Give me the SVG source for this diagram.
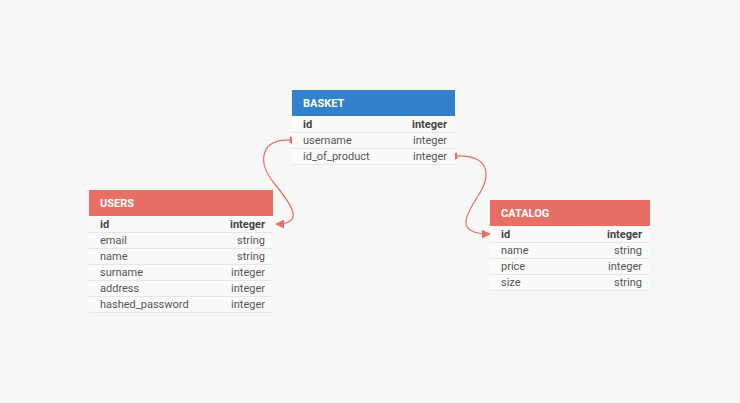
<svg xmlns="http://www.w3.org/2000/svg" width="740" height="403" viewBox="0 0 740 403">
<style>
.hdr-blue{fill:#3181cb}
.hdr-red{fill:#e86f65}
.hdr-text{font-family:Roboto,"Liberation Sans",sans-serif;font-size:11px;font-weight:bold;fill:#ffffff}
.row{fill:#fafafa;stroke:none}
.sep{stroke:#e6e6e6;stroke-width:1}
.f{font-family:Roboto,"Liberation Sans",sans-serif;font-size:11px;fill:#555555}
.pk{font-weight:bold;fill:#444444}
.t{text-anchor:end}
.conn{fill:none;stroke:#e86f65;stroke-width:1.2}
</style>
<defs>
<marker id="arrow" viewBox="0 0 10 10" refX="9" refY="5" markerWidth="9" markerHeight="9" markerUnits="userSpaceOnUse" orient="auto">
<path d="M0,0 L10,5 L0,10 z" fill="#e86f65"/>
</marker>
<marker id="tick" viewBox="0 0 4 10" refX="2" refY="5" markerWidth="3" markerHeight="7" markerUnits="userSpaceOnUse" orient="auto">
<rect x="0" y="0" width="4" height="10" fill="#e86f65"/>
</marker>
</defs>
<rect width="740" height="403" fill="#f7f7f7"/>

<g id="connectors">
<path class="conn" d="M291,140 C260,139 257,162 274,183 C291,204 306,224 276,224" marker-start="url(#tick)" marker-end="url(#arrow)"/>
<path class="conn" d="M456,156 C491,155 491,176 478,196 C465,216 455,234 490,234" marker-start="url(#tick)" marker-end="url(#arrow)"/>
</g>

<g id="basket">
<rect class="hdr-blue" x="292" y="90" width="163" height="26"/>
<text class="hdr-text" x="303" y="107">BASKET</text>
<rect class="row" x="292" y="116" width="163" height="48"/>
<line class="sep" x1="292" y1="132.5" x2="455" y2="132.5"/>
<line class="sep" x1="292" y1="148.5" x2="455" y2="148.5"/>
<line class="sep" x1="292" y1="164.5" x2="455" y2="164.5"/>
<text class="f pk" x="303" y="128">id</text><text class="f pk t" x="447" y="128">integer</text>
<text class="f" x="303" y="144">username</text><text class="f t" x="447" y="144">integer</text>
<text class="f" x="303" y="160">id_of_product</text><text class="f t" x="447" y="160">integer</text>
</g>

<g id="users">
<rect class="hdr-red" x="89" y="190" width="184" height="26"/>
<text class="hdr-text" x="100" y="207">USERS</text>
<rect class="row" x="89" y="216" width="184" height="96"/>
<line class="sep" x1="89" y1="232.5" x2="273" y2="232.5"/>
<line class="sep" x1="89" y1="248.5" x2="273" y2="248.5"/>
<line class="sep" x1="89" y1="264.5" x2="273" y2="264.5"/>
<line class="sep" x1="89" y1="280.5" x2="273" y2="280.5"/>
<line class="sep" x1="89" y1="296.5" x2="273" y2="296.5"/>
<line class="sep" x1="89" y1="312.5" x2="273" y2="312.5"/>
<text class="f pk" x="100" y="228">id</text><text class="f pk t" x="265" y="228">integer</text>
<text class="f" x="100" y="244">email</text><text class="f t" x="265" y="244">string</text>
<text class="f" x="100" y="260">name</text><text class="f t" x="265" y="260">string</text>
<text class="f" x="100" y="276">surname</text><text class="f t" x="265" y="276">integer</text>
<text class="f" x="100" y="292">address</text><text class="f t" x="265" y="292">integer</text>
<text class="f" x="100" y="308">hashed_password</text><text class="f t" x="265" y="308">integer</text>
</g>

<g id="catalog">
<rect class="hdr-red" x="490" y="200" width="160" height="26"/>
<text class="hdr-text" x="501" y="217">CATALOG</text>
<rect class="row" x="490" y="226" width="160" height="64"/>
<line class="sep" x1="490" y1="242.5" x2="650" y2="242.5"/>
<line class="sep" x1="490" y1="258.5" x2="650" y2="258.5"/>
<line class="sep" x1="490" y1="274.5" x2="650" y2="274.5"/>
<line class="sep" x1="490" y1="290.5" x2="650" y2="290.5"/>
<text class="f pk" x="501" y="238">id</text><text class="f pk t" x="642" y="238">integer</text>
<text class="f" x="501" y="254">name</text><text class="f t" x="642" y="254">string</text>
<text class="f" x="501" y="270">price</text><text class="f t" x="642" y="270">integer</text>
<text class="f" x="501" y="286">size</text><text class="f t" x="642" y="286">string</text>
</g>
</svg>
